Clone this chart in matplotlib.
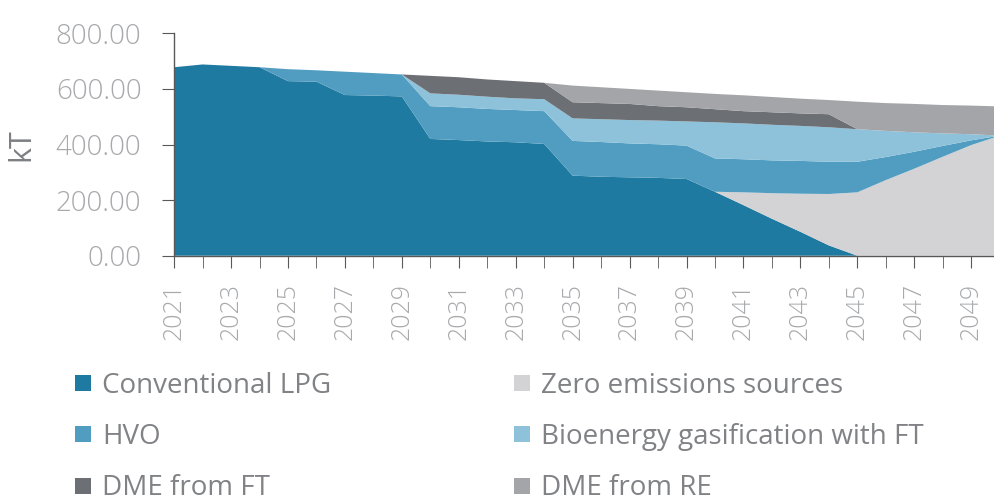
import matplotlib
matplotlib.use("Agg")
import matplotlib.pyplot as plt
from matplotlib.lines import Line2D
from matplotlib.ticker import FuncFormatter, MultipleLocator

# ================= DATA (kT) =================
years = list(range(2021, 2051))

lpg = [678, 688, 683, 678, 628, 626, 578, 576, 573, 420,
       416, 411, 408, 402, 288, 284, 282, 280, 276, 230,
       182, 133, 86, 37, 0, 0, 0, 0, 0, 0]
zero_em = [0, 0, 0, 0, 0, 0, 0, 0, 0, 0,
           0, 0, 0, 0, 0, 0, 0, 0, 0, 0,
           46, 92, 137, 185, 228, 272, 313, 356, 398, 432]
hvo = [0, 0, 0, 0, 43, 41, 84, 81, 79, 118,
       118, 117, 116, 118, 125, 125, 122, 121, 120, 120,
       119, 118, 118, 116, 110, 83, 61, 39, 17, 0]
bio_ft = [0, 0, 0, 0, 0, 0, 0, 0, 0, 46,
          45, 44, 42, 43, 81, 82, 84, 85, 87, 130,
          129, 128, 126, 124, 117, 94, 70, 45, 22, 0]
dme_ft = [0, 0, 0, 0, 0, 0, 0, 0, 0, 63,
          63, 62, 62, 59, 58, 58, 58, 52, 51, 47,
          44, 45, 45, 47, 0, 0, 0, 0, 0, 0]
dme_re = [0, 0, 0, 0, 0, 0, 0, 0, 0, 0,
          0, 0, 0, 0, 60, 57, 54, 56, 54, 55,
          57, 55, 53, 51, 99, 100, 102, 102, 103, 105]

labels = ["Conventional LPG", "Zero emissions sources", "HVO",
          "Bioenergy gasification with FT", "DME from FT", "DME from RE"]
colors = ["#1e7aa0", "#d3d3d5", "#519dc1", "#8dc2da", "#6c6f74", "#a3a5a8"]

# ================= PLOT =================
plt.rcParams['font.family'] = ['Open Sans', 'DejaVu Sans']

fig = plt.figure(figsize=(9.95, 5.01), dpi=100)
ax = fig.add_axes([0.175, 0.4896, 0.8297, 0.4439])

ax.stackplot(years, lpg, zero_em, hvo, bio_ft, dme_ft, dme_re,
             colors=colors, linewidth=0)

ax.set_xlim(2021, 2050)
ax.set_ylim(0, 800)

ax.spines['top'].set_visible(False)
ax.spines['right'].set_visible(False)
for s in ('left', 'bottom'):
    ax.spines[s].set_color('#58595b')
    ax.spines[s].set_linewidth(1.0)

ax.yaxis.set_major_locator(MultipleLocator(200))
ax.yaxis.set_major_formatter(FuncFormatter(lambda v, p: f"{v:.2f}"))
ax.set_xticks(years[:-1:2])
ax.set_xticks(years[1:-1:2], minor=True)
ax.tick_params(axis='x', which='both', direction='out', length=8.5,
               color='#58595b', labelrotation=90, labelsize=18,
               labelcolor='#a7a9ac', pad=11)
ax.tick_params(axis='y', direction='out', length=8.5, color='#58595b',
               labelsize=20, labelcolor='#a7a9ac', pad=15)
for t in ax.get_xticklabels() + ax.get_yticklabels():
    t.set_fontweight('light')

# y axis title
fig.text(0.021, 0.711, "kT", rotation=90, ha='center', va='center',
         fontsize=22, color='#7d7f82')

# Legend (row order: LPG | Zero, HVO | Bio, DME FT | DME RE)
order = [0, 2, 4, 1, 3, 5]
handles = [Line2D([], [], marker='s', linestyle='none', markersize=12,
                  markerfacecolor=colors[i], markeredgewidth=0) for i in order]
fig.legend(handles, [labels[i] for i in order], ncol=2, frameon=False,
           loc='upper left', bbox_to_anchor=(0.0734, 0.258),
           fontsize=20, labelcolor='#808285', handlelength=0.7,
           handletextpad=0.35, columnspacing=6.5, labelspacing=0.84,
           borderpad=0, borderaxespad=0)

fig.savefig("out.png", dpi=100)
